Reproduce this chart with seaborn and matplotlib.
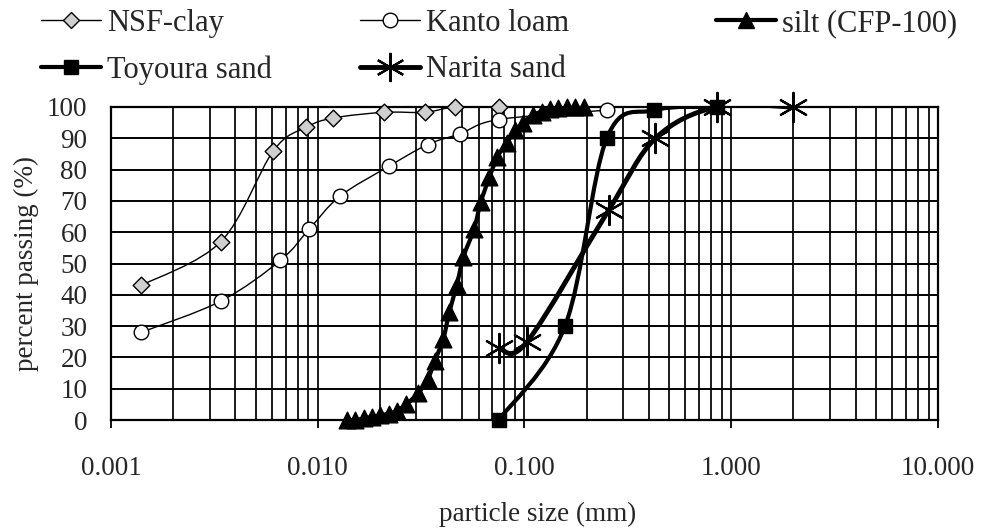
import numpy as np
import matplotlib
matplotlib.use("Agg")
import matplotlib.pyplot as plt
from matplotlib.path import Path
from matplotlib.patches import PathPatch
from matplotlib.lines import Line2D
from matplotlib.ticker import FixedLocator, FixedFormatter, LogLocator, NullFormatter
import seaborn as sns

# ---- grain size distribution data (particle size in mm, percent passing) ----
nsf_size = [0.0014, 0.0034, 0.0061, 0.0088, 0.0119, 0.021, 0.033, 0.046, 0.075]
nsf_pass = [43, 57, 86, 93.5, 96.5, 98.3, 98.3, 100, 100]

kanto_size = [0.0014, 0.0034, 0.0066, 0.0091, 0.0128, 0.022, 0.034, 0.049, 0.075, 0.25]
kanto_pass = [28, 38, 51, 61, 71.5, 81, 88, 91.5, 96, 99]

silt_size = [0.0138, 0.0152, 0.0167, 0.0183, 0.0200, 0.0220, 0.0242, 0.0268,
             0.0305, 0.0340, 0.0369, 0.0405, 0.0433, 0.0470, 0.0506, 0.0570,
             0.0614, 0.0676, 0.0739, 0.0820, 0.0900, 0.0986, 0.110, 0.121,
             0.133, 0.146, 0.160, 0.175, 0.193]
silt_pass = [0, 0, 0.5, 1, 1.5, 2, 3, 5, 8.5, 13, 19, 26, 34.5, 43, 52, 61,
             69.5, 77.5, 84, 88.5, 92.5, 95, 97.5, 98.5, 99.3, 99.7, 100, 100, 100]

toyoura_size = [0.075, 0.157, 0.25, 0.425, 0.85]
toyoura_pass = [0, 30, 90, 99, 100]

narita_size = [0.075, 0.103, 0.255, 0.43, 0.85, 2.0]
narita_pass = [23, 25, 67, 90, 100, 100]

series_names = ["NSF-clay", "Kanto loam", "silt (CFP-100)", "Toyoura sand", "Narita sand"]

x_ticks = [0.001, 0.01, 0.1, 1.0, 10.0]
x_tick_labels = ["0.001", "0.010", "0.100", "1.000", "10.000"]
y_ticks = list(range(0, 101, 10))
y_tick_labels = [str(v) for v in y_ticks]

# ---- style ----
sns.set_theme(style="white")
plt.rcParams["font.family"] = ["Liberation Serif", "DejaVu Serif"]

styles = {
    "NSF-clay":       dict(marker="D", ms=8.5, mfc="#cfcfcf", mec="black", mew=1.0, lw=1.0),
    "Kanto loam":     dict(marker="o", ms=10.5, mfc="white", mec="black", mew=1.0, lw=1.0),
    "silt (CFP-100)": dict(marker="^", ms=12, mfc="black", mec="black", mew=1.0, lw=3.0),
    "Toyoura sand":   dict(marker="s", ms=10, mfc="black", mec="black", mew=1.0, lw=3.0),
    "Narita sand":    dict(marker=(6, 2, 0), ms=21, mfc="black", mec="black", mew=1.6, lw=3.5),
}

data = {
    "NSF-clay": (nsf_size, nsf_pass),
    "Kanto loam": (kanto_size, kanto_pass),
    "silt (CFP-100)": (silt_size, silt_pass),
    "Toyoura sand": (toyoura_size, toyoura_pass),
    "Narita sand": (narita_size, narita_pass),
}


def smooth_path(xs, ys):
    """Smoothed (Catmull-Rom style Bezier) path through the points, built in log-x space."""
    u = np.log10(np.asarray(xs, float))
    y = np.asarray(ys, float)
    n = len(u)
    verts = [(u[0], y[0])]
    codes = [Path.MOVETO]
    for i in range(n - 1):
        ua, ya = (u[i - 1], y[i - 1]) if i > 0 else (u[i], y[i])
        ub, yb = (u[i + 2], y[i + 2]) if i + 2 < n else (u[i + 1], y[i + 1])
        c1 = (u[i] + (u[i + 1] - ua) / 6.0, y[i] + (y[i + 1] - ya) / 6.0)
        c2 = (u[i + 1] - (ub - u[i]) / 6.0, y[i + 1] - (yb - y[i]) / 6.0)
        verts += [c1, c2, (u[i + 1], y[i + 1])]
        codes += [Path.CURVE4] * 3
    verts = np.array(verts)
    verts[:, 0] = 10 ** verts[:, 0]
    return Path(verts, codes)


fig = plt.figure(figsize=(9.83, 5.32), dpi=100)
ax = fig.add_axes([111 / 983, 112 / 532, 827 / 983, 313 / 532])
ax.set_xscale("log")
ax.set_xlim(0.001, 10)
ax.set_ylim(0, 100)

# grid
ax.xaxis.set_major_locator(FixedLocator(x_ticks))
ax.xaxis.set_major_formatter(FixedFormatter(x_tick_labels))
ax.xaxis.set_minor_locator(LogLocator(base=10, subs=np.arange(2, 10)))
ax.xaxis.set_minor_formatter(NullFormatter())
ax.yaxis.set_major_locator(FixedLocator(y_ticks))
ax.yaxis.set_major_formatter(FixedFormatter(y_tick_labels))
ax.grid(which="both", axis="x", color="black", lw=1.25)
ax.grid(which="major", axis="y", color="black", lw=1.4)
ax.set_axisbelow(True)

for sp in ax.spines.values():
    sp.set_color("black")
    sp.set_linewidth(1.6)

ax.tick_params(axis="x", which="major", direction="out", length=6, width=1.3,
               color="black", labelsize=19.5, pad=20, bottom=True)
ax.tick_params(axis="x", which="minor", length=0)
ax.tick_params(axis="y", which="major", length=0, labelsize=19.5, pad=17, left=True)

# curves and markers
z = 3
for name in series_names:
    xs, ys = data[name]
    st = styles[name]
    ax.add_patch(PathPatch(smooth_path(xs, ys), fill=False, edgecolor="black",
                           lw=st["lw"], transform=ax.transData, zorder=z))
    sns.scatterplot(x=xs, y=ys, ax=ax, marker=st["marker"], s=st["ms"] ** 2,
                    color=st["mfc"], edgecolor=st["mec"], linewidth=st["mew"],
                    zorder=z + 1, clip_on=False, legend=False)
    z += 2

ax.set_xlabel("particle size (mm)", fontsize=19.5)
ax.xaxis.label.set_va("center")
ax.xaxis.set_label_coords((538 - 111) / 827, (420 - 514) / 313)
ax.set_ylabel("percent passing (%)", fontsize=19.5)
ax.yaxis.label.set_va("center")
ax.yaxis.set_label_coords((26 - 111) / 827, 0.5)


def handle(name):
    st = styles[name]
    return Line2D([], [], color="black", lw=st["lw"], marker=st["marker"],
                  markersize=st["ms"], markerfacecolor=st["mfc"],
                  markeredgecolor=st["mec"], markeredgewidth=st["mew"])


leg_kw = dict(frameon=False, fontsize=22, handlelength=1.95, handletextpad=0.2,
              borderpad=0, borderaxespad=0, labelspacing=0.57)
leg1 = fig.legend([handle(n) for n in ["NSF-clay", "Toyoura sand", "Kanto loam", "Narita sand"]],
                  ["NSF-clay", "Toyoura sand", "Kanto loam", "Narita sand"],
                  loc="upper left", bbox_to_anchor=(41 / 983, 1 - 9 / 532), ncol=2,
                  columnspacing=2.9, **leg_kw)
leg2 = fig.legend([handle("silt (CFP-100)")], ["silt (CFP-100)"],
                  loc="upper left", bbox_to_anchor=(716 / 983, 1 - 9 / 532), **leg_kw)

fig.savefig("out.png", dpi=100, facecolor="white")
